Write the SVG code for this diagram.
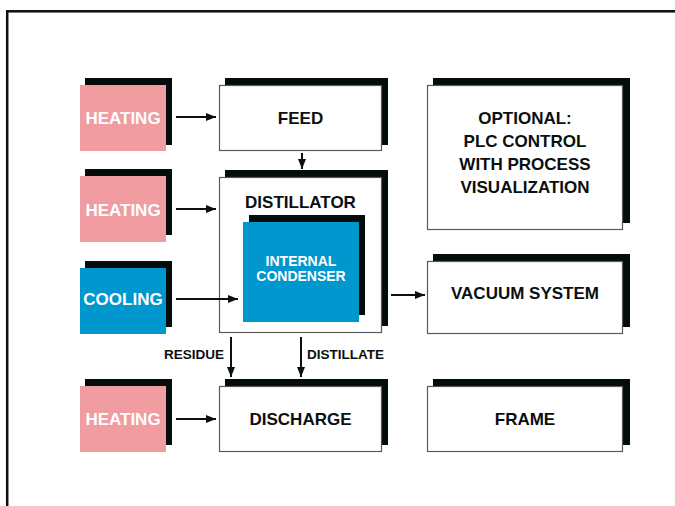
<svg xmlns="http://www.w3.org/2000/svg" width="675" height="506" viewBox="0 0 675 506">
<defs>
<style>
.sh{fill:#040c0c}
.wb{fill:#fff;stroke:#5a5a5a;stroke-width:1.2}
.pk{fill:#f09ca0}
.bl{fill:#0096ce}
.t{font-family:"Liberation Sans",Arial,Helvetica,sans-serif;font-weight:bold;font-size:17px;text-anchor:middle;fill:#0a0f0f}
.tw{font-family:"Liberation Sans",Arial,Helvetica,sans-serif;font-weight:bold;font-size:17px;text-anchor:middle;fill:#fff}
.ts{font-family:"Liberation Sans",Arial,Helvetica,sans-serif;font-weight:bold;font-size:13.5px;fill:#0a0f0f}
.ln{stroke:#0a0f0f;stroke-width:2;fill:none;marker-end:url(#ah)}
</style>
<marker id="ah" viewBox="0 0 10 8" refX="10" refY="4" markerWidth="5" markerHeight="4" markerUnits="strokeWidth" orient="auto">
<path d="M0,0 L10,4 L0,8 Z" fill="#0a0f0f"/>
</marker>
</defs>
<rect x="0" y="0" width="675" height="506" fill="#fff"/>
<rect x="7.2" y="11.3" width="720" height="600" fill="none" stroke="#0a0f0f" stroke-width="2.5"/>

<g id="heating1">
<rect class="sh" x="85" y="78" width="87" height="67"/>
<rect class="pk" x="80" y="85" width="86" height="66"/>
<text class="tw" x="123" y="123.5">HEATING</text>
</g>
<g id="feed">
<rect class="sh" x="225" y="78" width="163" height="67"/>
<rect class="wb" x="219.5" y="85.5" width="162" height="65"/>
<text class="t" x="300.5" y="123.5">FEED</text>
</g>
<g id="heating2">
<rect class="sh" x="85" y="169" width="87" height="66"/>
<rect class="pk" x="80" y="176" width="86" height="66"/>
<text class="tw" x="123" y="215.5">HEATING</text>
</g>
<g id="distillator">
<rect class="sh" x="225" y="170" width="163" height="156"/>
<rect class="wb" x="219.5" y="177.5" width="162" height="155"/>
<text class="t" x="300.5" y="208">DISTILLATOR</text>
</g>
<g id="condenser">
<rect class="sh" x="249" y="215" width="116" height="100"/>
<rect class="bl" x="243" y="222" width="116" height="100"/>
<text class="tw" x="301" y="265.5" style="font-size:14px">INTERNAL</text>
<text class="tw" x="301" y="281" style="font-size:14px">CONDENSER</text>
</g>
<g id="cooling">
<rect class="sh" x="85" y="261" width="87" height="66"/>
<rect class="bl" x="80" y="268" width="86" height="66"/>
<text class="tw" x="123" y="305">COOLING</text>
</g>
<g id="heating3">
<rect class="sh" x="85" y="379" width="87" height="66"/>
<rect class="pk" x="80" y="386" width="86" height="66"/>
<text class="tw" x="123" y="425">HEATING</text>
</g>
<g id="discharge">
<rect class="sh" x="225" y="379" width="163" height="66"/>
<rect class="wb" x="219.5" y="386.5" width="162" height="65"/>
<text class="t" x="300.5" y="425">DISCHARGE</text>
</g>
<g id="optional">
<rect class="sh" x="433" y="78" width="197" height="145"/>
<rect class="wb" x="427.5" y="85.5" width="195" height="144"/>
<text class="t" x="525" y="124">OPTIONAL:</text>
<text class="t" x="525" y="147">PLC CONTROL</text>
<text class="t" x="525" y="170">WITH PROCESS</text>
<text class="t" x="525" y="193">VISUALIZATION</text>
</g>
<g id="vacuum">
<rect class="sh" x="433" y="254" width="197" height="73"/>
<rect class="wb" x="427.5" y="261.5" width="195" height="72"/>
<text class="t" x="525" y="298.5">VACUUM SYSTEM</text>
</g>
<g id="frame">
<rect class="sh" x="433" y="379" width="197" height="66"/>
<rect class="wb" x="427.5" y="386.5" width="195" height="65"/>
<text class="t" x="525" y="425">FRAME</text>
</g>

<g id="connectors">
<line class="ln" x1="176" y1="117" x2="216" y2="117"/>
<line class="ln" x1="302" y1="153" x2="302" y2="169"/>
<line class="ln" x1="176" y1="209" x2="216" y2="209"/>
<line class="ln" x1="176" y1="299" x2="238" y2="299"/>
<line class="ln" x1="391" y1="295" x2="425" y2="295"/>
<line class="ln" x1="231" y1="337" x2="231" y2="377"/>
<line class="ln" x1="301" y1="337" x2="301" y2="377"/>
<line class="ln" x1="176" y1="419" x2="216" y2="419"/>
<text class="ts" x="224" y="359" text-anchor="end">RESIDUE</text>
<text class="ts" x="307" y="359">DISTILLATE</text>
</g>
</svg>
